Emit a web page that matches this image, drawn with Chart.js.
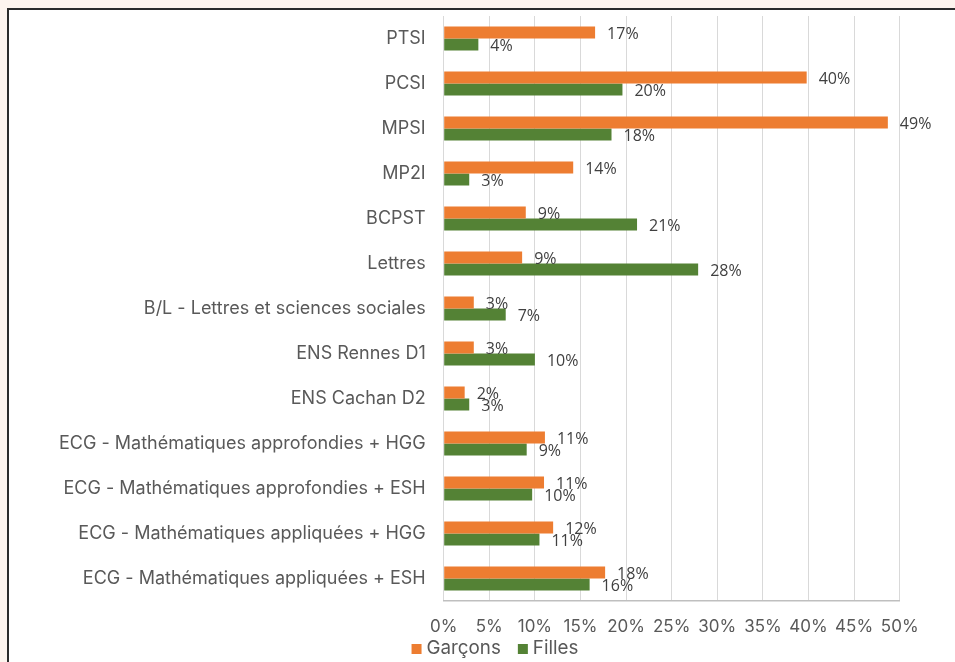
<!DOCTYPE html>
<html>
<head>
<meta charset="utf-8">
<script src="https://cdn.jsdelivr.net/npm/chart.js@4/dist/chart.umd.min.js"></script>
<style>
  html, body { margin:0; padding:0; width:955px; height:662px; overflow:hidden; background:#fdf4ee; }
  #frame { position:absolute; left:7px; top:8px; width:960px; height:670px; background:#ffffff;
           border-left:2px solid #2b2b2b; border-top:2px solid #2b2b2b; }
  #wrap { position:absolute; left:9px; top:10px; width:946px; height:660px; }
</style>
</head>
<body>
<div id="frame"></div>
<div id="wrap"><canvas id="c" width="946" height="660"></canvas></div>
<script>
const categories = [
  'PTSI','PCSI','MPSI','MP2I','BCPST','Lettres',
  'B/L - Lettres et sciences sociales','ENS Rennes D1','ENS Cachan D2',
  'ECG - Mathématiques approfondies + HGG','ECG - Mathématiques approfondies + ESH',
  'ECG - Mathématiques appliquées + HGG','ECG - Mathématiques appliquées + ESH'
];
const garcons = [16.6, 39.8, 48.7, 14.2, 9.0, 8.6, 3.3, 3.3, 2.3, 11.1, 11.0, 12.0, 17.7];
const filles  = [3.8, 19.6, 18.4, 2.8, 21.2, 27.9, 6.8, 10.0, 2.8, 9.1, 9.7, 10.5, 16.0];
const garconsLabels = ['17%','40%','49%','14%','9%','9%','3%','3%','2%','11%','11%','12%','18%'];
const fillesLabels  = ['4%','20%','18%','3%','21%','28%','7%','10%','3%','9%','10%','11%','16%'];
const xTicks = [0,5,10,15,20,25,30,35,40,45,50];
const seriesNames = ['Garçons','Filles'];
const seriesColors = ['#ED7D31','#548235'];

const FONT = 'Inter';

const labelPlugin = {
  id: 'barLabels',
  afterDatasetsDraw(chart) {
    const ctx = chart.ctx;
    const lists = [garconsLabels, fillesLabels];
    ctx.save();
    ctx.font = '16px "Open Sans"';
    ctx.fillStyle = '#404040';
    ctx.textAlign = 'left';
    ctx.textBaseline = 'middle';
    chart.data.datasets.forEach((ds, di) => {
      const meta = chart.getDatasetMeta(di);
      meta.data.forEach((bar, i) => {
        ctx.fillText(lists[di][i], bar.x + 12, bar.y + 1.5);
      });
    });
    ctx.restore();
  }
};

const legendPlugin = {
  id: 'bottomLegend',
  afterDraw(chart) {
    const ctx = chart.ctx;
    ctx.save();
    ctx.font = '18.8px ' + FONT;
    ctx.textBaseline = 'alphabetic';
    ctx.textAlign = 'left';
    const box = 10, gapText = 5, gapItem = 17;
    const items = chart.data.datasets.map(ds => ({ text: ds.label, color: ds.backgroundColor, w: ctx.measureText(ds.label).width }));
    let total = 0;
    items.forEach((it, i) => { total += box + gapText + it.w + (i < items.length - 1 ? gapItem : 0); });
    const centerX = 486;
    let x = centerX - total / 2;
    const baseline = 644;
    items.forEach(it => {
      ctx.fillStyle = it.color;
      ctx.fillRect(x, baseline - 10, box, box);
      x += box + gapText;
      ctx.fillStyle = '#595959';
      ctx.fillText(it.text, x, baseline);
      x += it.w + gapItem;
    });
    ctx.restore();
  }
};

new Chart(document.getElementById('c'), {
  type: 'bar',
  data: {
    labels: categories,
    datasets: [
      { label: seriesNames[0], data: garcons, backgroundColor: seriesColors[0], borderWidth: 0 },
      { label: seriesNames[1], data: filles, backgroundColor: seriesColors[1], borderWidth: 0 }
    ]
  },
  options: {
    indexAxis: 'y',
    responsive: false,
    animation: false,
    devicePixelRatio: 1,
    categoryPercentage: 0.533,
    barPercentage: 1.0,
    layout: { padding: { left: 0, right: 55.3, top: 6, bottom: 29 } },
    scales: {
      x: {
        min: 0, max: 50,
        afterBuildTicks(scale) { scale.ticks = xTicks.map(v => ({ value: v })); },
        afterFit(scale) { scale.height = 40; },
        ticks: {
          callback: v => v + '%',
          font: { family: FONT, size: 17 },
          color: '#595959',
          padding: 16,
          maxRotation: 0
        },
        grid: { color: '#d9d9d9', lineWidth: 1, drawTicks: false },
        border: { color: '#bfbfbf', width: 1.5 }
      },
      y: {
        afterFit(scale) { scale.width = 434.7; scale.paddingTop = 0; scale.paddingBottom = 0; },
        ticks: {
          font: { family: FONT, size: 18 },
          color: '#595959',
          padding: 18,
          autoSkip: false
        },
        grid: { display: false, drawTicks: false },
        border: { display: false }
      }
    },
    plugins: {
      legend: { display: false },
      tooltip: { enabled: false }
    }
  },
  plugins: [labelPlugin, legendPlugin]
});
</script>
</body>
</html>
